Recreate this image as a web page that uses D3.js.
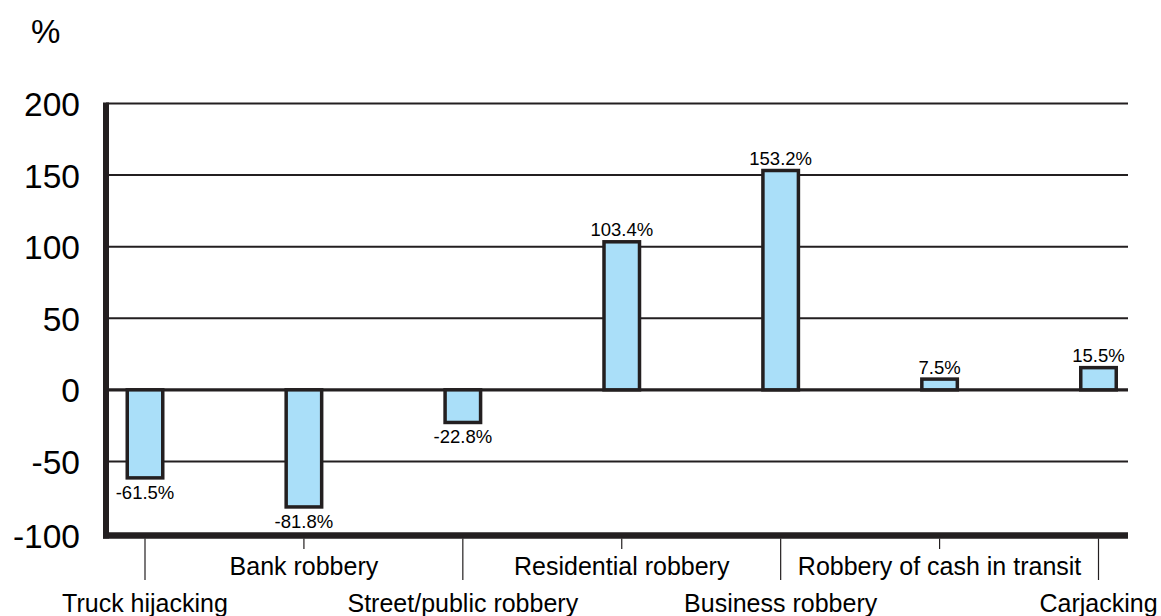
<!DOCTYPE html>
<html>
<head>
<meta charset="utf-8">
<script src="https://cdn.jsdelivr.net/npm/d3@7"></script>
<style>
  html, body { margin: 0; padding: 0; background: #fff; }
  svg { display: block; font-family: "Liberation Sans", Arial, sans-serif; }
</style>
</head>
<body>
<svg id="chart" width="1161" height="616"></svg>
<script>
// Percentage change by robbery category
const categories = [
  "Truck hijacking",
  "Bank robbery",
  "Street/public robbery",
  "Residential robbery",
  "Business robbery",
  "Robbery of cash in transit",
  "Carjacking"
];
const changes = [-61.5, -81.8, -22.8, 103.4, 153.2, 7.5, 15.5];
const valueLabels = ["-61.5%", "-81.8%", "-22.8%", "103.4%", "153.2%", "7.5%", "15.5%"];
const yTicks = [200, 150, 100, 50, 0, -50, -100];
const yTickLabels = ["200", "150", "100", "50", "0", "-50", "-100"];

const data = categories.map((c, i) => ({ cat: c, value: changes[i], label: valueLabels[i], idx: i }));

const svg = d3.select("#chart");
const ink = "#231f20";

const plotLeft = 106, plotRight = 1128;
const y = d3.scaleLinear().domain([-100, 200]).range([533, 103.5]);
const x = d3.scalePoint().domain(categories).range([145, 1098.5]);
const barW = 35.5;

// horizontal grid lines (the -100 line is the x axis drawn below)
svg.append("g")
  .selectAll("line")
  .data(yTicks.filter(v => v !== -100))
  .join("line")
  .attr("x1", plotLeft)
  .attr("x2", plotRight)
  .attr("y1", d => y(d))
  .attr("y2", d => y(d))
  .attr("stroke", ink)
  .attr("stroke-width", d => d === 0 ? 3.2 : 2);

// y tick labels
svg.append("g")
  .selectAll("text")
  .data(yTicks)
  .join("text")
  .attr("x", 80)
  .attr("y", d => (d === -100 ? y(d) + 2.5 : y(d)) + 12.5)
  .attr("text-anchor", "end")
  .attr("font-size", 33.5)
  .attr("fill", "#000")
  .text((d, i) => yTickLabels[i]);

// unit label
svg.append("text")
  .attr("x", 31)
  .attr("y", 43)
  .attr("font-size", 33)
  .attr("fill", "#000")
  .text("%");

// bars
svg.append("g")
  .selectAll("rect")
  .data(data)
  .join("rect")
  .attr("x", d => x(d.cat) - barW / 2)
  .attr("y", d => y(Math.max(0, d.value)))
  .attr("width", barW)
  .attr("height", d => Math.abs(y(d.value) - y(0)))
  .attr("fill", "#aadff9")
  .attr("stroke", ink)
  .attr("stroke-width", 3.5);

// value labels
svg.append("g")
  .selectAll("text")
  .data(data)
  .join("text")
  .attr("x", d => x(d.cat))
  .attr("y", d => d.value >= 0 ? y(d.value) - 5.5 : y(d.value) + 21)
  .attr("text-anchor", "middle")
  .attr("font-size", 18.5)
  .attr("fill", "#000")
  .text(d => d.label);

// axes
svg.append("line")
  .attr("x1", plotLeft).attr("x2", plotLeft)
  .attr("y1", 102.5).attr("y2", 538.5)
  .attr("stroke", ink).attr("stroke-width", 6);
svg.append("line")
  .attr("x1", plotLeft - 3).attr("x2", plotRight)
  .attr("y1", y(-100) + 2.5).attr("y2", y(-100) + 2.5)
  .attr("stroke", ink).attr("stroke-width", 6.5);

// category ticks and staggered labels
const axisBottom = y(-100) + 5.5;
const cats = svg.append("g");
cats.selectAll("line")
  .data(data)
  .join("line")
  .attr("x1", d => x(d.cat))
  .attr("x2", d => x(d.cat))
  .attr("y1", axisBottom)
  .attr("y2", d => d.idx % 2 === 0 ? 580 : 549)
  .attr("stroke", ink)
  .attr("stroke-width", 1.2);
cats.selectAll("text")
  .data(data)
  .join("text")
  .attr("x", d => x(d.cat))
  .attr("y", d => d.idx % 2 === 0 ? 612 : 575)
  .attr("text-anchor", "middle")
  .attr("font-size", 25)
  .attr("fill", "#000")
  .text(d => d.cat);
</script>
</body>
</html>
